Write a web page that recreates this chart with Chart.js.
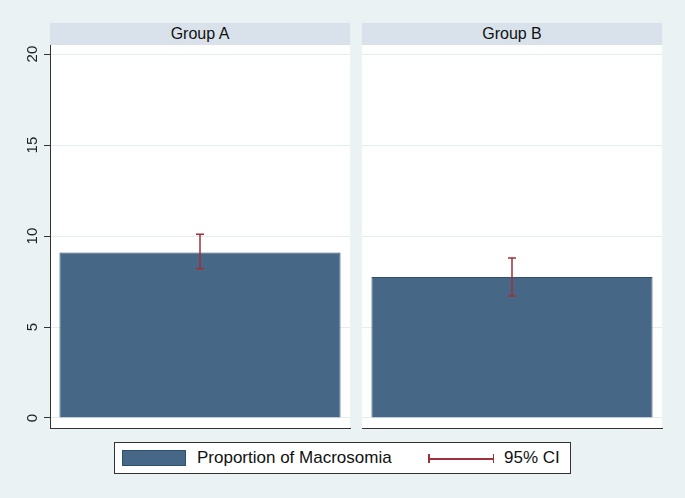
<!DOCTYPE html>
<html>
<head>
<meta charset="utf-8">
<script src="https://cdn.jsdelivr.net/npm/chart.js@4"></script>
<style>
  body { margin: 0; background: #eaf2f3; font-family: "Liberation Sans", Arial, sans-serif; }
  #page { position: relative; width: 685px; height: 498px; overflow: hidden; }
  .hdr { position: absolute; top: 23px; height: 22px; width: 300px; background: #d9e2ea;
         color: #111; font-size: 16px; line-height: 22px; text-align: center; }
  .panel { position: absolute; top: 45px; }
  #legend { position: absolute; left: 114px; top: 442px; width: 455px; height: 30px;
            background: #fff; border: 1px solid #333; font-size: 17px; color: #111; }
  #legend .sw { position: absolute; left: 7px; top: 7px; width: 64px; height: 16px;
                background: #476787; border: 1px solid #2f4f6f; box-sizing: border-box; }
  #legend .t1 { position: absolute; left: 82px; top: 5px; }
  #legend .ci { position: absolute; left: 313px; top: 15px; width: 66px; height: 1.5px; background: #a0303a; }
  #legend .ci::before, #legend .ci::after { content: ""; position: absolute; top: -4px; width: 1.5px; height: 9px; background: #a0303a; }
  #legend .ci::before { left: 0; }
  #legend .ci::after { right: 0; }
  #legend .t2 { position: absolute; left: 389px; top: 5px; }
</style>
</head>
<body>
<div id="page">
  <div class="hdr" id="hdr-0" style="left:50px"></div>
  <div class="hdr" id="hdr-1" style="left:362px"></div>
  <div class="panel" style="left:0px;width:351px;height:384px"><canvas id="panel-0"></canvas></div>
  <div class="panel" style="left:362px;width:301px;height:384px"><canvas id="panel-1"></canvas></div>
  <div id="legend">
    <div class="sw"></div><div class="t1">Proportion of Macrosomia</div>
    <div class="ci"></div><div class="t2">95% CI</div>
  </div>
</div>
<script>
// Data
const groups = ['Group A', 'Group B'];
const proportion = [9.1, 7.75];
const ciLow = [8.2, 6.7];
const ciHigh = [10.1, 8.8];
const yTicks = [0, 5, 10, 15, 20];
const seriesLabel = 'Proportion of Macrosomia';

const barColor = '#476787';
const barBorder = '#2f4f6f';
const ciColor = '#a0303a';

// White plot region behind the bars
const plotBackground = {
  id: 'plotBackground',
  beforeDraw(chart) {
    const { ctx, chartArea: a } = chart;
    ctx.save();
    ctx.fillStyle = '#ffffff';
    ctx.fillRect(a.left, a.top, a.right - a.left, a.bottom - a.top);
    ctx.restore();
  }
};

// Confidence interval whiskers, positioned through the y scale
const errorBars = {
  id: 'errorBars',
  afterDatasetsDraw(chart, args, opts) {
    const { ctx } = chart;
    const y = chart.scales.y;
    const meta = chart.getDatasetMeta(0);
    meta.data.forEach((bar) => {
      const yLo = y.getPixelForValue(opts.low);
      const yHi = y.getPixelForValue(opts.high);
      const x = bar.x;
      ctx.save();
      ctx.strokeStyle = ciColor;
      ctx.lineWidth = 1.5;
      ctx.beginPath();
      ctx.moveTo(x, yLo); ctx.lineTo(x, yHi);
      ctx.moveTo(x - 4, yLo); ctx.lineTo(x + 4, yLo);
      ctx.moveTo(x - 4, yHi); ctx.lineTo(x + 4, yHi);
      ctx.stroke();
      ctx.restore();
    });
  }
};

// Rotated y tick labels (Stata style)
const rotatedTicks = {
  id: 'rotatedTicks',
  afterDraw(chart, args, opts) {
    if (!opts.show) return;
    const { ctx } = chart;
    const y = chart.scales.y;
    ctx.save();
    ctx.fillStyle = '#222';
    ctx.font = '15px "Liberation Sans", Arial, sans-serif';
    ctx.textAlign = 'center';
    ctx.textBaseline = 'middle';
    yTicks.forEach((v) => {
      ctx.save();
      ctx.translate(33, y.getPixelForValue(v));
      ctx.rotate(-Math.PI / 2);
      ctx.fillText(String(v), 0, 0);
      ctx.restore();
    });
    ctx.restore();
  }
};

function makePanel(i) {
  const withAxis = i === 0;
  document.getElementById('hdr-' + i).textContent = groups[i];
  return new Chart(document.getElementById('panel-' + i), {
    type: 'bar',
    data: {
      labels: [groups[i]],
      datasets: [{
        label: seriesLabel,
        data: [proportion[i]],
        backgroundColor: barColor,
        borderColor: barBorder,
        borderWidth: 1,
        barPercentage: 0.937,
        categoryPercentage: 1
      }]
    },
    options: {
      responsive: true,
      maintainAspectRatio: false,
      animation: false,
      layout: { padding: { top: 0, right: 1, bottom: 1, left: 0 } },
      plugins: {
        legend: { display: false },
        tooltip: { enabled: false },
        errorBars: { low: ciLow[i], high: ciHigh[i] },
        rotatedTicks: { show: withAxis }
      },
      scales: {
        x: {
          grid: { display: false, drawTicks: false },
          border: { display: true, color: '#333', width: 1 },
          ticks: { display: false },
          afterFit(scale) { scale.height = 0; }
        },
        y: {
          min: -0.55,
          max: 20.5,
          afterBuildTicks(scale) { scale.ticks = yTicks.map(v => ({ value: v })); },
          grid: {
            color: '#e4eef0',
            lineWidth: 1,
            drawTicks: withAxis,
            tickLength: 6,
            tickColor: '#333'
          },
          border: { display: withAxis, color: '#333', width: 1 },
          ticks: { display: false },
          afterFit(scale) { scale.width = withAxis ? 50 : 0; }
        }
      }
    },
    plugins: [plotBackground, errorBars, rotatedTicks]
  });
}

makePanel(0);
makePanel(1);
</script>
</body>
</html>
